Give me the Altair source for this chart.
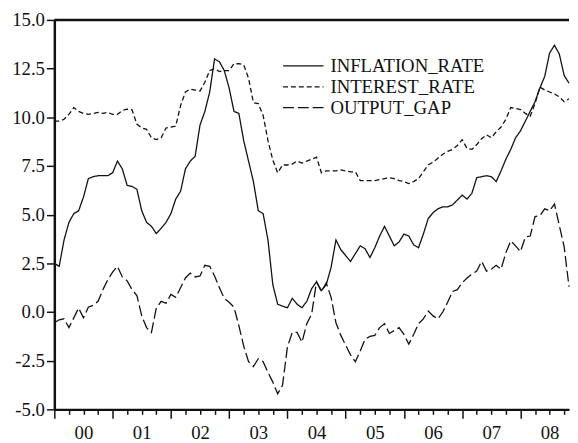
import altair as alt
import pandas as pd

# Monthly series, 2000M1 .. 2008M11
start_year = 2000
inflation_rate = [
    2.5, 2.35, 3.7, 4.6, 5.05, 5.2, 5.9, 6.85, 6.95, 7.0, 7.0, 7.0,
    7.15, 7.75, 7.35, 6.5, 6.45, 6.3, 5.2, 4.6, 4.4, 4.03, 4.3, 4.6,
    5.05, 5.8, 6.2, 7.35, 7.75, 8.0, 9.6, 10.3, 11.3, 13.0, 12.85, 12.4,
    11.5, 10.3, 10.2, 8.8, 7.75, 6.7, 5.2, 5.05, 3.7, 1.4, 0.4, 0.3,
    0.22, 0.7, 0.4, 0.22, 0.55, 1.2, 1.55, 1.1, 1.4, 2.3, 3.7, 3.2,
    2.9, 2.6, 3.0, 3.4, 3.25, 2.8, 3.3, 3.9, 4.4, 3.9, 3.4, 3.6,
    4.0, 3.9, 3.45, 3.3, 4.0, 4.8, 5.1, 5.3, 5.4, 5.4, 5.5, 5.75,
    6.0, 5.8, 6.1, 6.9, 6.95, 7.0, 6.95, 6.7, 7.25, 7.85, 8.35, 8.95,
    9.3, 9.8, 10.3, 10.8, 11.5, 12.1, 13.3, 13.7, 13.25, 12.15, 11.75,
]
interest_rate = [
    9.8, 9.8, 9.9, 10.15, 10.5, 10.3, 10.2, 10.15, 10.2, 10.25, 10.2, 10.25,
    10.15, 10.15, 10.35, 10.42, 10.38, 9.65, 9.45, 9.38, 8.95, 8.85, 8.95, 9.45,
    9.5, 9.55, 10.6, 11.3, 11.45, 11.4, 11.35, 11.8, 12.4, 12.5, 12.35, 12.4,
    12.4, 12.75, 12.75, 12.7, 12.0, 10.75, 10.7, 10.1, 8.8, 7.8, 7.15, 7.55,
    7.55, 7.6, 7.75, 7.65, 7.75, 7.85, 7.95, 7.15, 7.25, 7.25, 7.25, 7.3,
    7.25, 7.2, 7.2, 6.75, 6.75, 6.75, 6.75, 6.8, 6.85, 6.9, 6.85, 6.75,
    6.7, 6.6, 6.7, 6.85, 7.2, 7.55, 7.7, 7.9, 8.1, 8.25, 8.35, 8.55,
    8.85, 8.4, 8.35, 8.6, 8.9, 9.1, 8.95, 9.25, 9.5, 9.9, 10.5, 10.45,
    10.4, 10.2, 10.05, 10.7, 11.55, 11.4, 11.3, 11.2, 11.05, 10.8, 10.95,
]
output_gap = [
    -0.55, -0.4, -0.35, -0.8, -0.3, 0.2, -0.3, 0.25, 0.35, 0.55, 1.15, 1.65,
    2.05, 2.35, 1.8, 1.6, 1.15, 0.85, -0.2, -0.8, -1.05, 0.2, 0.55, 0.45,
    0.9, 0.75, 1.25, 1.75, 2.0, 1.8, 1.85, 2.4, 2.35, 1.85, 1.25, 0.7,
    0.5, 0.25, -0.7, -1.75, -2.55, -2.8, -2.4, -2.55, -3.1, -3.6, -4.2, -3.75,
    -1.8, -1.05, -1.05, -1.55, -0.6, -0.1, 1.55, 1.05, 1.5, 0.75, -0.55, -1.2,
    -1.7, -2.2, -2.55, -2.0, -1.4, -1.25, -1.2, -0.8, -0.6, -1.1, -0.95, -0.8,
    -1.15, -1.65, -1.15, -0.6, -0.35, 0.05, -0.2, -0.35, 0.0, 0.5, 1.05, 1.15,
    1.5, 1.75, 1.95, 2.1, 2.6, 2.1, 2.2, 2.4, 2.2, 3.05, 3.65, 3.4,
    3.1, 3.85, 3.9, 4.9, 4.95, 5.3, 5.2, 5.55, 4.45, 3.35, 1.3,
]

series_names = ["INFLATION_RATE", "INTEREST_RATE", "OUTPUT_GAP"]
series_dash = [[1, 0], [5, 3], [11, 4]]
year_labels = ["00", "01", "02", "03", "04", "05", "06", "07", "08"]
y_ticks = [-5.0, -2.5, 0.0, 2.5, 5.0, 7.5, 10.0, 12.5, 15.0]

n = len(inflation_rate)
rows = []
for name, vals in zip(series_names, [inflation_rate, interest_rate, output_gap]):
    for m, v in enumerate(vals):
        rows.append({"month": m, "value": v, "series": name})
df = pd.DataFrame(rows)

FONT = "Liberation Serif"
INK = "#111111"
FS = 19

x_scale = alt.Scale(domain=[0, n - 1], nice=False, zero=False)
y_scale = alt.Scale(domain=[y_ticks[0], y_ticks[-1]], nice=False, zero=False)

label_arr = "[" + ",".join("'%s'" % s for s in year_labels) + "]"

x_axis = alt.Axis(
    values=list(range(0, n, 3)),
    labelExpr="datum.value % 12 == 6 ? " + label_arr + "[floor(datum.value / 12)] : ''",
    tickSize={"condition": {"test": "datum.value % 12 == 0", "value": 9}, "value": 5},
    tickColor=INK, tickWidth=1.5,
    domainColor=INK, domainWidth=2.5,
    labelFont=FONT, labelFontSize=FS, labelColor=INK,
    labelPadding=10, labelOverlap=False, labelFlush=False, labelBound=False,
    grid=False, title=None,
)
y_axis = alt.Axis(
    values=y_ticks,
    labelExpr="(datum.value < 0 ? '-' : '') + format(abs(datum.value), '.1f')",
    tickSize=8, tickColor=INK, tickWidth=1.5,
    domainColor=INK, domainWidth=2.5,
    labelFont=FONT, labelFontSize=FS, labelColor=INK, labelPadding=2,
    labelOverlap=False, labelFlush=False, labelBound=False,
    grid=False, title=None,
)

lines = alt.Chart(df).mark_line(strokeWidth=1.3, color=INK).encode(
    x=alt.X("month:Q", scale=x_scale, axis=x_axis),
    y=alt.Y("value:Q", scale=y_scale, axis=y_axis),
    strokeDash=alt.StrokeDash(
        "series:N",
        scale=alt.Scale(domain=series_names, range=series_dash),
        legend=None,
    ),
    detail="series:N",
)

top = alt.Chart(pd.DataFrame({"y": [y_ticks[-1]]})).mark_rule(
    strokeWidth=2.5, color=INK
).encode(y=alt.Y("y:Q", scale=y_scale))

layers = [lines, top]
row_y = [46.5, 68, 89]
for name, dash, ry in zip(series_names, series_dash, row_y):
    ldf = pd.DataFrame({"series": [name]})
    layers.append(
        alt.Chart(ldf).mark_rule(strokeWidth=1.3, color=INK, strokeDash=dash).encode(
            x=alt.value(232), x2=alt.value(273), y=alt.value(ry)
        )
    )
    layers.append(
        alt.Chart(ldf).mark_text(
            align="left", baseline="middle", font=FONT, fontSize=FS, color=INK
        ).encode(x=alt.value(280), y=alt.value(ry), text="series:N")
    )

chart = alt.layer(*layers).properties(
    width=522, height=395,
    autosize=alt.AutoSizeParams(type="none"),
    padding={"left": 47, "top": 9, "right": 1, "bottom": 31},
    background="white",
).configure_view(stroke=None)

chart.save("out.html", embed_options={"renderer": "svg", "actions": False})
